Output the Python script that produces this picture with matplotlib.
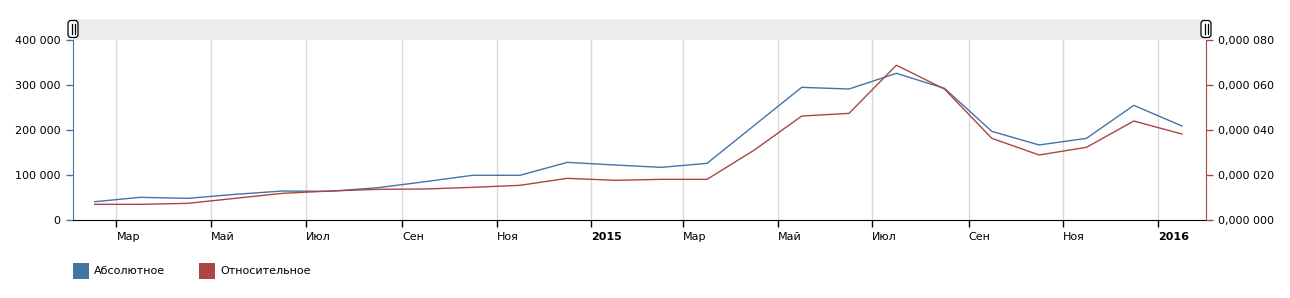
import matplotlib
matplotlib.use("Agg")
import matplotlib.pyplot as plt
from matplotlib.patches import Rectangle, FancyBboxPatch
from matplotlib.ticker import FuncFormatter
import matplotlib.transforms as mtransforms
import pandas as pd

# monthly values, Feb 2014 .. Jan 2016
months = pd.period_range("2014-02", "2016-01", freq="M")
absolute = [40700, 50400, 48100, 57000, 64400, 63700, 71800, 85200,
            99300, 99300, 128100, 122200, 117000, 125900, 210400, 294800,
            291100, 325900, 292600, 197000, 166700, 181500, 254800, 208900]
# relative share, in units of 1e-6
relative = [6.96, 6.96, 7.41, 9.63, 11.85, 12.89, 13.63, 13.78,
            14.52, 15.41, 18.52, 17.63, 18.07, 18.07, 31.1, 46.2,
            47.4, 68.8, 58.2, 36.3, 28.9, 32.3, 44.0, 38.2]

tick_dates = pd.date_range("2014-03-01", "2016-01-01", freq="2MS")
tick_labels = ["Мар", "Май", "Июл", "Сен", "Ноя", "2015",
               "Мар", "Май", "Июл", "Сен", "Ноя", "2016"]
series_names = ["Абсолютное", "Относительное"]

BLUE = "#4572A7"
RED = "#AA4643"
TXT = "#000000"

plt.rcParams["font.family"] = ["DejaVu Sans"]
plt.rcParams["font.size"] = 8

W, H = 1290, 298
fig = plt.figure(figsize=(W / 100, H / 100), dpi=100)
L, R, T, B = 73, 1206, 40, 220
ax = fig.add_axes([L / W, 1 - B / H, (R - L) / W, (B - T) / H])
ax2 = ax.twinx()

# mid-month positions
x = [p.start_time + (p.end_time - p.start_time) / 2 for p in months]

ax.plot(x, absolute, color=BLUE, lw=1.0, zorder=3)
ax2.plot(x, [v * 1e-6 for v in relative], color=RED, lw=1.0, zorder=3)

ax.set_xlim(pd.Timestamp("2014-02-01"), pd.Timestamp("2016-02-01"))
ax.set_ylim(0, 400000)
ax2.set_ylim(0, 0.00008)

ax.set_yticks([0, 100000, 200000, 300000, 400000])
ax.yaxis.set_major_formatter(FuncFormatter(lambda v, p: f"{int(v):,}".replace(",", " ")))


def rel_fmt(v, p):
    a, b = f"{v:.6f}".split(".")
    return a + "," + b[:3] + " " + b[3:]


ax2.set_yticks([0, 0.00002, 0.00004, 0.00006, 0.00008])
ax2.yaxis.set_major_formatter(FuncFormatter(rel_fmt))

ax.set_xticks(tick_dates)
ax.set_xticklabels(tick_labels)
offset = mtransforms.ScaledTranslation(3 / 100, 0, fig.dpi_scale_trans)
for lbl, txt in zip(ax.get_xticklabels(), tick_labels):
    lbl.set_horizontalalignment("left")
    lbl.set_transform(lbl.get_transform() + offset)
    if txt.isdigit():
        lbl.set_fontweight("bold")

ax.grid(axis="x", color="#d9d9d9", lw=1.0)
ax.set_axisbelow(True)

for s in ["top", "right"]:
    ax.spines[s].set_visible(False)
for s in ["top", "left", "bottom"]:
    ax2.spines[s].set_visible(False)
ax.spines["left"].set_color(BLUE)
ax.spines["bottom"].set_color("black")
ax2.spines["right"].set_color(RED)

ax.tick_params(axis="y", colors=BLUE, labelcolor=TXT, length=5, width=1, pad=4, labelsize=8)
ax2.tick_params(axis="y", colors=RED, labelcolor=TXT, length=5, width=1, pad=3.5, labelsize=8)
ax.tick_params(axis="x", color="black", labelcolor=TXT, length=5, width=1, pad=4, labelsize=8)

# overlay in pixel coordinates for scrollbar and legend
ov = fig.add_axes([0, 0, 1, 1], zorder=-1)
ov.set_xlim(0, W)
ov.set_ylim(H, 0)
ov.axis("off")

ov.add_patch(Rectangle((L, 19), R - L, 21, facecolor="#ececec", edgecolor="none"))
top = fig.add_axes([0, 0, 1, 1], zorder=5)
top.set_xlim(0, W)
top.set_ylim(H, 0)
top.axis("off")
for hx in (L, R):
    top.add_patch(FancyBboxPatch((hx - 5, 20.5), 10, 17,
                                 boxstyle="round,pad=0,rounding_size=3",
                                 facecolor="white", edgecolor="black", lw=0.9))
    for dx in (-1.5, 1.5):
        top.plot([hx + dx, hx + dx], [24, 34], color="black", lw=0.9)

# legend
for i, (name, col) in enumerate(zip(series_names, [BLUE, RED])):
    lx = 73 + i * 126
    top.add_patch(Rectangle((lx, 263), 16, 16, facecolor=col, edgecolor="none"))
    top.text(lx + 21, 271, name, fontsize=8, va="center", ha="left", color=TXT)

fig.savefig("out.png", dpi=100)
